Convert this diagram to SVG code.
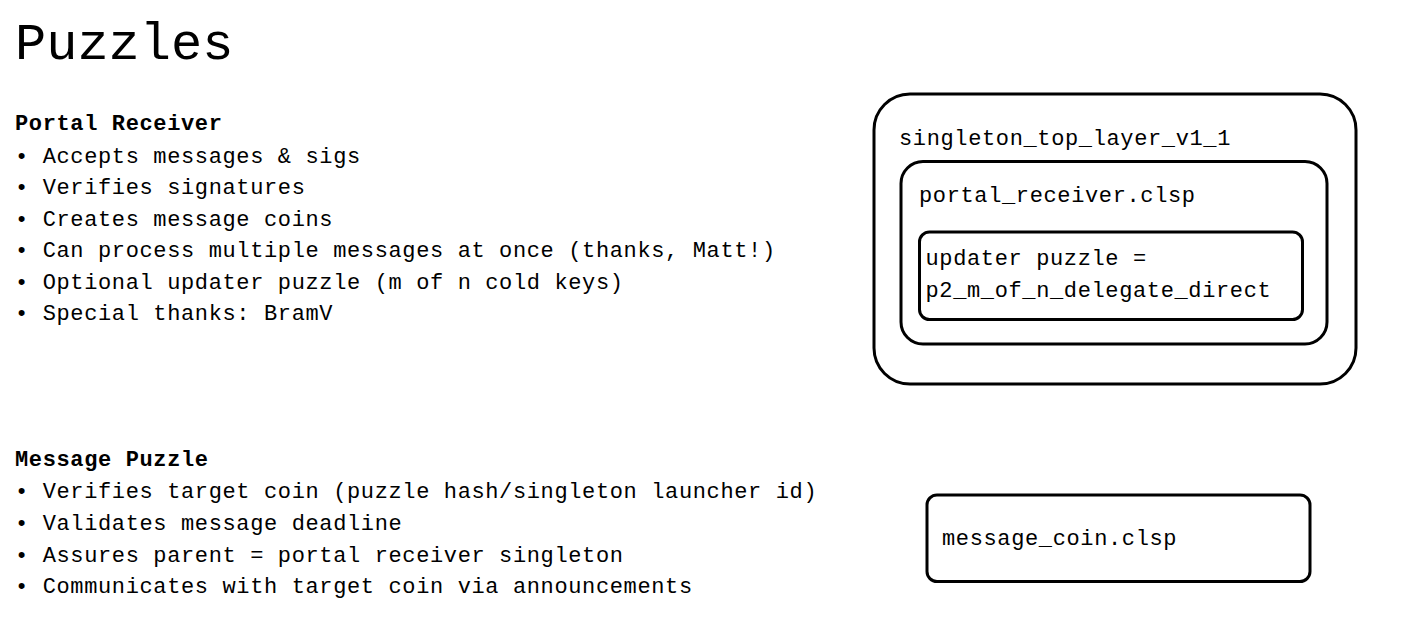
<svg xmlns="http://www.w3.org/2000/svg" width="1402" height="620" viewBox="0 0 1402 620">
<style>
text{font-family:"Liberation Mono","DejaVu Sans Mono",monospace;fill:#000}
.t{font-size:22px;letter-spacing:0.63px}
.h{font-size:22px;letter-spacing:0.63px;font-weight:bold}
.title{font-size:52px}
.box{fill:#fff;stroke:#000;stroke-width:3}
</style>
<rect width="1402" height="620" fill="#fff"/>
<text class="title" x="15" y="59">Puzzles</text>
<g id="portal-receiver-text">
<text class="h" x="15" y="130">Portal Receiver</text>
<text class="t" x="15" y="162.5">• Accepts messages &amp; sigs</text>
<text class="t" x="15" y="194">• Verifies signatures</text>
<text class="t" x="15" y="225.5">• Creates message coins</text>
<text class="t" x="15" y="257">• Can process multiple messages at once (thanks, Matt!)</text>
<text class="t" x="15" y="288.5">• Optional updater puzzle (m of n cold keys)</text>
<text class="t" x="15" y="320">• Special thanks: BramV</text>
</g>
<g id="message-puzzle-text">
<text class="h" x="15" y="465.5">Message Puzzle</text>
<text class="t" x="15" y="498">• Verifies target coin (puzzle hash/singleton launcher id)</text>
<text class="t" x="15" y="530">• Validates message deadline</text>
<text class="t" x="15" y="561.5">• Assures parent = portal receiver singleton</text>
<text class="t" x="15" y="593">• Communicates with target coin via announcements</text>
</g>
<g id="singleton_top_layer">
<rect class="box" x="874" y="94" width="482" height="290" rx="36"/>
<text class="t" x="899" y="145">singleton_top_layer_v1_1</text>
</g>
<g id="portal_receiver">
<rect class="box" x="901" y="161.5" width="426" height="182.5" rx="22"/>
<text class="t" x="919" y="201.5">portal_receiver.clsp</text>
</g>
<g id="updater_puzzle">
<rect class="box" x="919.5" y="232" width="383" height="87.5" rx="10"/>
<text class="t" x="925.5" y="265">updater puzzle =</text>
<text class="t" x="925.5" y="297">p2_m_of_n_delegate_direct</text>
</g>
<g id="message_coin">
<rect class="box" x="927" y="495" width="383" height="86.5" rx="10"/>
<text class="t" x="942" y="545">message_coin.clsp</text>
</g>
<g id="connectors"></g>
</svg>
